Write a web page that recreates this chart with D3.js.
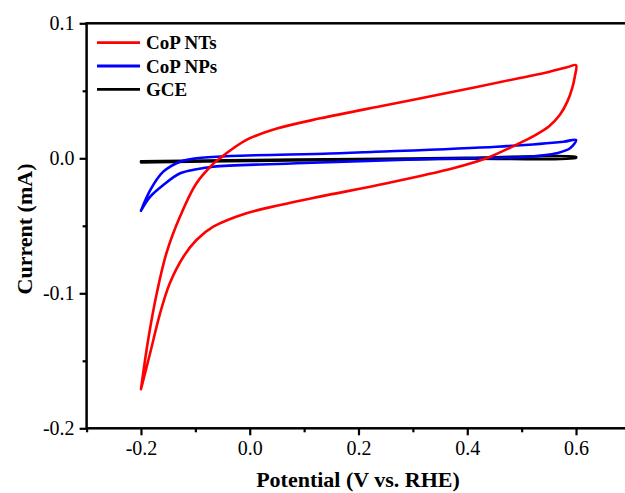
<!DOCTYPE html>
<html>
<head>
<meta charset="utf-8">
<script src="https://cdn.jsdelivr.net/npm/d3@7"></script>
<style>
  body { margin: 0; background: #fff; }
  svg { display: block; }
</style>
</head>
<body>
<script>
// CV loops, potential (V vs RHE) and current (mA)
var ntsV = [-0.200, -0.187, -0.171, -0.153, -0.128, -0.098, -0.067, -0.055, -0.006, 0.050, 0.130, 0.252, 0.374, 0.497, 0.550, 0.585, 0.600,
            0.598, 0.593, 0.584, 0.570, 0.550, 0.520, 0.482, 0.435, 0.374, 0.252, 0.129, 0.056, -0.006, -0.067, -0.098, -0.122, -0.147, -0.165, -0.183, -0.200];
var ntsI = [-0.171, -0.135, -0.100, -0.070, -0.043, -0.0185, -0.004, 0.000, 0.0136, 0.022, 0.0296, 0.0395, 0.0493, 0.0595, 0.064, 0.0676, 0.069,
            0.061, 0.052, 0.042, 0.032, 0.0235, 0.016, 0.0085, 0.000, -0.0074, -0.0185, -0.0284, -0.0346, -0.0407, -0.0507, -0.0605, -0.0729, -0.0926, -0.115, -0.144, -0.171];

var npsV = [-0.200, -0.183, -0.159, -0.128, -0.098, -0.036, 0.148, 0.209, 0.454, 0.577, 0.600,
            0.589, 0.564, 0.515, 0.331, 0.086, -0.067, -0.098, -0.128, -0.159, -0.183, -0.200];
var npsI = [-0.0388, -0.0235, -0.0099, -0.0025, 0.000, 0.0017, 0.0035, 0.0045, 0.0086, 0.0123, 0.0136,
            0.0074, 0.0037, 0.0012, -0.0005, -0.0037, -0.0062, -0.0081, -0.0111, -0.0198, -0.0284, -0.0388];

var gceV = [-0.200, 0.000, 0.200, 0.400, 0.600, 0.600, 0.400, 0.200, 0.000, -0.200];
var gceI = [-0.0022, -0.0013, -0.0005, 0.0003, 0.0010, 0.0004, -0.0003, -0.0011, -0.0020, -0.0030];

var seriesNames = ["CoP NTs", "CoP NPs", "GCE"];
var seriesColors = ["#ff0000", "#0000ff", "#000000"];

var xMajor = [-0.2, 0.0, 0.2, 0.4, 0.6];
var xMinor = [-0.3, -0.1, 0.1, 0.3, 0.5];
var yMajor = [0.1, 0.0, -0.1, -0.2];
var yMinor = [0.05, -0.05, -0.15];

var w = 625;
var h = 493;

var xScale = d3.scaleLinear().domain([-0.3, 0.7]).range([86.6, 630.4]);
var yScale = d3.scaleLinear().domain([-0.2, 0.1]).range([428.3, 23.3]);

var svg = d3.select("body")
            .append("svg")
            .attr("width", w)
            .attr("height", h);

svg.append("rect")
   .attr("width", w)
   .attr("height", h)
   .attr("fill", "#fff");

var fmt = function(d){ return d.toFixed(1); };

// minor ticks first, then major axes on top
svg.append("g")
   .attr("transform", "translate(0," + yScale(-0.2) + ")")
   .call(d3.axisBottom(xScale).tickValues(xMinor).tickSize(4).tickFormat(""));

svg.append("g")
   .attr("transform", "translate(" + xScale(-0.3) + ",0)")
   .call(d3.axisLeft(yScale).tickValues(yMinor).tickSize(4).tickFormat(""));

svg.append("g")
   .attr("class", "xaxis")
   .attr("transform", "translate(0," + yScale(-0.2) + ")")
   .call(d3.axisBottom(xScale).tickValues(xMajor).tickSize(7).tickPadding(6).tickFormat(fmt));

svg.append("g")
   .attr("class", "yaxis")
   .attr("transform", "translate(" + xScale(-0.3) + ",0)")
   .call(d3.axisLeft(yScale).tickValues(yMajor).tickSize(7).tickPadding(5).tickFormat(fmt));

svg.selectAll(".domain").remove();
svg.selectAll(".tick line")
   .attr("stroke", "#000")
   .attr("stroke-width", 2.2);
svg.selectAll(".tick text")
   .attr("font-family", "'Liberation Serif', 'Times New Roman', serif")
   .attr("font-size", "20px")
   .attr("fill", "#000");

// frame
svg.append("rect")
   .attr("x", xScale(-0.3))
   .attr("y", yScale(0.1))
   .attr("width", xScale(0.7) - xScale(-0.3))
   .attr("height", yScale(-0.2) - yScale(0.1))
   .attr("fill", "none")
   .attr("stroke", "#000")
   .attr("stroke-width", 2.5);

var line = d3.line()
             .x(function(d){ return xScale(d[0]); })
             .y(function(d){ return yScale(d[1]); })
             .curve(d3.curveCatmullRom.alpha(0.5));

function pairs(vs, is){
  return vs.map(function(v, i){ return [v, is[i]]; });
}

var loops = [pairs(gceV, gceI), pairs(npsV, npsI), pairs(ntsV, ntsI)];
var loopColors = [seriesColors[2], seriesColors[1], seriesColors[0]];

svg.selectAll("path.cv")
   .data(loops)
   .enter()
   .append("path")
   .attr("class", "cv")
   .attr("d", line)
   .attr("fill", "none")
   .attr("stroke", function(d, i){ return loopColors[i]; })
   .attr("stroke-width", 2.6)
   .attr("stroke-linejoin", "round")
   .attr("stroke-linecap", "round");

// legend
var legend = svg.selectAll("g.legend")
                .data(seriesNames)
                .enter()
                .append("g")
                .attr("class", "legend")
                .attr("transform", function(d, i){
                  return "translate(97," + (42.7 + i * 23.3) + ")";
                });

legend.append("line")
      .attr("x1", 0)
      .attr("x2", 43)
      .attr("stroke", function(d, i){ return seriesColors[i]; })
      .attr("stroke-width", 2.8);

legend.append("text")
      .text(function(d){ return d; })
      .attr("x", 49)
      .attr("y", 6.5)
      .attr("font-family", "'Liberation Serif', 'Times New Roman', serif")
      .attr("font-weight", "bold")
      .attr("font-size", "19px")
      .attr("fill", "#000");

// axis titles
svg.append("text")
   .text("Potential (V vs. RHE)")
   .attr("x", 358)
   .attr("y", 487)
   .attr("text-anchor", "middle")
   .attr("font-family", "'Liberation Serif', 'Times New Roman', serif")
   .attr("font-weight", "bold")
   .attr("font-size", "22px");

svg.append("text")
   .text("Current (mA)")
   .attr("transform", "translate(32,229) rotate(-90)")
   .attr("text-anchor", "middle")
   .attr("font-family", "'Liberation Serif', 'Times New Roman', serif")
   .attr("font-weight", "bold")
   .attr("font-size", "22px");
</script>
</body>
</html>
